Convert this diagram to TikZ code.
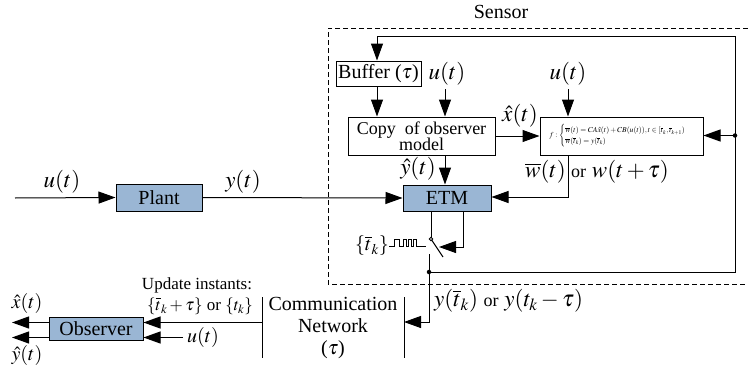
\documentclass[tikz,border=0pt]{standalone}
\usepackage{mathptmx}
\usepackage{amsmath}
\usepackage[no-math]{fontspec}
\setmainfont{Liberation Serif}
\usetikzlibrary{arrows.meta}
\definecolor{blockblue}{RGB}{154,182,212}
\newcommand\bigf{\fontsize{20}{22}\selectfont}
\newcommand\mathf{\fontsize{23}{25}\selectfont}
\newcommand\midf{\fontsize{18}{21}\selectfont}
\newcommand\updf{\fontsize{17}{20}\selectfont}
\newcommand\tinyf{\fontsize{7.6}{8.7}\selectfont}
\tikzset{
  blk/.style={draw, line width=1pt, fill=blockblue, inner sep=0pt, font=\bigf},
  wbox/.style={draw, line width=1pt, fill=white, inner sep=0pt},
  arr/.style={-{Triangle[length=17pt,width=12pt]}},
  ln/.style={line width=1pt},
  lbl/.style={inner sep=0pt, font=\mathf},
  dot/.style={circle, fill=black, inner sep=0pt, minimum size=4.5pt},
}
\begin{document}
\begin{tikzpicture}[x=1pt,y=-1pt]
\useasboundingbox (0,0) rectangle (748,367);
% sensor region
\draw[dashed, line width=0.9pt, dash pattern=on 5pt off 3pt] (748,28) -- (328,28) -- (328,284) -- (748,284);
\node[inner sep=0pt, font=\bigf] (sensor) at (501,12) {Sensor};
% blocks
\node[blk, minimum width=86pt, minimum height=27pt] (plant) at (159,197.5) {Plant};
\node[blk, minimum width=88pt, minimum height=26pt] (etm) at (447,198) {ETM};
\node[wbox, minimum width=85pt, minimum height=25pt, font=\bigf] (buffer) at (378.5,73.5) {Buffer ($\tau$)};
\node[wbox, minimum width=147pt, minimum height=38pt, font=\midf, align=center] (copy) at (421.5,136) {Copy\ \ of observer\\[-5pt]model};
\node[wbox, minimum width=163pt, minimum height=38pt, font=\tinyf] (fbox) at (621.5,136)
  {$f:\begin{cases}\overline{w}(t)=CA\hat{x}(t)+CB(u(t)), t\in[\overline{t}_k,\overline{t}_{k+1})\\ \overline{w}(\overline{t}_k)=y(\overline{t}_k)\end{cases}$};
\node[blk, minimum width=94pt, minimum height=23pt] (obs) at (96,328.5) {Observer};
% network
\coordinate (nlt) at (262,297); \coordinate (nlb) at (262,358);
\coordinate (nrt) at (404,297); \coordinate (nrb) at (404,358);
\draw[ln] (nlt) -- (nlb); \draw[ln] (nrt) -- (nrb);
\node[inner sep=0pt, font=\bigf, align=center] (net) at (333,328) {Communication\\Network\\($\tau$)};
% plant in/out
\coordinate (uin) at (15,198);
\draw[ln, arr] (uin) -- (plant.west);
\node[lbl] (ulab) at (62,182) {$u(t)$};
\draw[ln, arr] (plant.east) -- (etm.west);
\node[lbl] (ylab) at (243,182) {$y(t)$};
% feedback loop
\coordinate (fbd) at (429,272);
\coordinate (fbr) at (735,272);
\coordinate (fbtr) at (735,36);
\coordinate (fbtl) at (377,36);
\coordinate (fbm) at (735,135.5);
\node[dot] (d1) at (fbd) {};
\node[dot] (d2) at (fbm) {};
\draw[ln, arr] (d1.center) -- (fbr) -- (fbtr) -- (fbtl) -- (fbtl |- buffer.north);
\draw[ln, arr] (d2.center) -- (fbox.east |- d2);
% sensor internals
\draw[ln, arr] (buffer.south -| fbtl) -- (copy.north -| fbtl);
\node[lbl] (u2) at (447,74) {$u(t)$};
\coordinate (u2s) at (445,89);
\draw[ln, arr] (u2s) -- (copy.north -| u2s);
\draw[ln, arr] (copy.east) -- (fbox.west);
\node[lbl] (xh) at (520,116) {$\hat{x}(t)$};
\node[lbl] (u3) at (568,74) {$u(t)$};
\coordinate (u3s) at (568,89);
\draw[ln, arr] (u3s) -- (fbox.north -| u3s);
\draw[ln, arr] (copy.south -| u2s) -- (etm.north -| u2s);
\node[lbl] (yh) at (418,169) {$\hat{y}(t)$};
\coordinate (wc) at (568,197);
\draw[ln, arr] (fbox.south -| wc) -- (wc) -- (etm.east |- wc);
\node[lbl, anchor=east] (wb) at (566,172) {$\overline{w}(t)$};
\node[lbl, anchor=west] (wor) at (571,172) {{\midf or} $w(t+\tau)$};
% switch
\coordinate (swc) at (431,239);
\coordinate (swr) at (463,211);
\coordinate (swa) at (463,247);
\coordinate (swt) at (439,247);
\draw[ln] (etm.south -| swc) -- ([yshift=-1.8pt]swc);
\draw[ln, arr] (swr) -- (swa) -- (swt);
\draw[ln] (swc) -- (443,257);
\draw[line width=0.8pt, fill=white] (swc) circle (1.8pt);
\coordinate (swo) at (429,254);
\coordinate (nin) at (429,322);
\draw[ln] (swo) -- (d1.center);
\draw[ln, arr] (d1.center) -- (nin) -- (nin -| nrt);
\node[lbl, font=\bigf] (tk) at (372,246) {$\{\overline{t}_k\}$};
\draw[line width=0.7pt] (389,246) -- (394,246) -- (394,239) -- (399,239) -- (399,246) -- (403,246) -- (403,239) -- (406,239) -- (406,246) -- (408,246) -- (408,239) -- (411,239) -- (411,246) -- (413,246) -- (413,239) -- (416,239) -- (416,246) -- (426,246);
\node[lbl, anchor=west] (ytk) at (434,301) {$y(\overline{t}_k)$ {\midf or} $y(t_k-\tau)$};
% observer side
\coordinate (on) at (262,322.5);
\draw[ln, arr] (on) -- (obs.east |- on);
\coordinate (ou) at (183,337.5);
\draw[ln, arr] (ou) -- (obs.east |- ou);
\node[lbl, font=\bigf] (u4) at (203,337) {$u(t)$};
\coordinate (ox) at (12,322.5);
\coordinate (oy) at (12,337.5);
\draw[ln, arr] (obs.west |- ox) -- (ox);
\draw[ln, arr] (obs.west |- oy) -- (oy);
\node[lbl, font=\bigf] (xo) at (27,303) {$\hat{x}(t)$};
\node[lbl, font=\bigf] (yo) at (27,355) {$\hat{y}(t)$};
\node[inner sep=0pt, font=\updf] (upd) at (197,285) {Update instants:};
\node[inner sep=0pt, font=\updf] (upd2) at (200,306) {$\{\overline{t}_k+\tau\}$ or $\{t_k\}$};
\end{tikzpicture}
\end{document}
